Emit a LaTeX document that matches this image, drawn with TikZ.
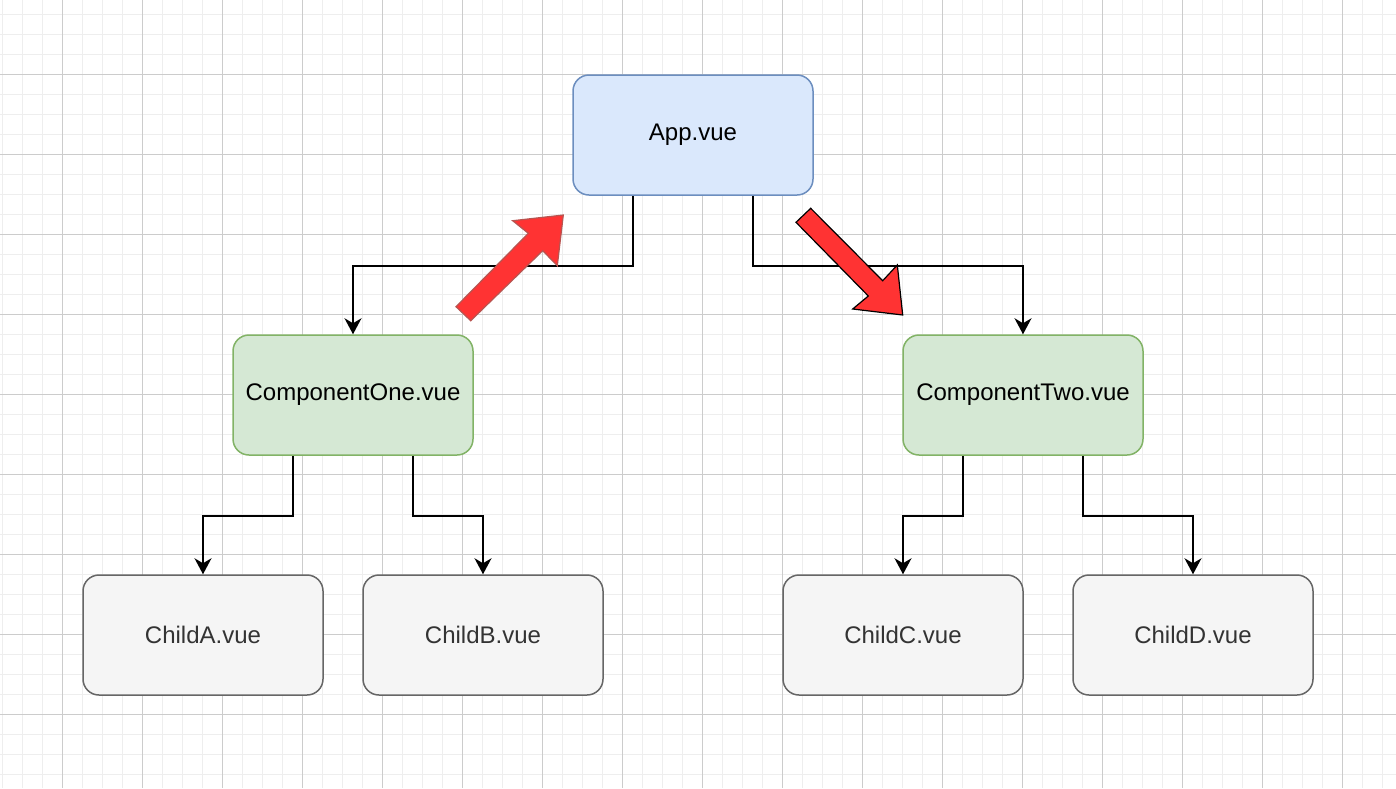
\documentclass[tikz,border=0pt]{standalone}
\usepackage{fontspec}
\setmainfont{Liberation Sans}
\usetikzlibrary{arrows.meta,calc}

\definecolor{gridminor}{HTML}{EEEEEE}
\definecolor{gridmajor}{HTML}{CCCCCC}
\definecolor{appfill}{HTML}{DAE8FC}
\definecolor{appdraw}{HTML}{6C8EBF}
\definecolor{compfill}{HTML}{D5E8D4}
\definecolor{compdraw}{HTML}{82B366}
\definecolor{childfill}{HTML}{F5F5F5}
\definecolor{childdraw}{HTML}{666666}
\definecolor{childtext}{HTML}{333333}
\definecolor{bigred}{HTML}{FF3333}
\definecolor{redborder}{HTML}{B85450}

\tikzset{
  box/.style={rectangle, rounded corners=16pt, minimum width=240pt,
    minimum height=120pt, inner sep=0pt, line width=1.5pt,
    font=\fontsize{24}{28}\selectfont},
  appbox/.style={box, fill=appfill, draw=appdraw},
  compbox/.style={box, fill=compfill, draw=compdraw},
  childbox/.style={box, fill=childfill, draw=childdraw, text=childtext},
  link/.style={line width=1.6pt, draw=black,
    -{Stealth[length=16pt,width=17pt,inset=5pt]}},
  bigarrow/.style={fill=bigred, line width=1.2pt, line join=miter}
}

\begin{document}
\begin{tikzpicture}[x=1pt,y=-1pt]
  % canvas
  \fill[white] (0,0) rectangle (1396,788);
  \useasboundingbox (0,0) rectangle (1396,788);

  % background grid: fine lines every 20, heavier every 80
  \foreach \gx in {2.5,22.5,...,1396} {
    \draw[gridminor, line width=1pt] (\gx,0) -- (\gx,788);
  }
  \foreach \gy in {14,34,...,788} {
    \draw[gridminor, line width=1pt] (0,\gy) -- (1396,\gy);
  }
  \foreach \gx in {62.5,142.5,...,1396} {
    \draw[gridmajor, line width=1pt] (\gx,0) -- (\gx,788);
  }
  \foreach \gy in {74,154,...,788} {
    \draw[gridmajor, line width=1pt] (0,\gy) -- (1396,\gy);
  }

  % components
  \node[appbox]   (app) at (693,135) {App.vue};
  \node[compbox]  (one) at (353,395) {ComponentOne.vue};
  \node[compbox]  (two) at (1023,395) {ComponentTwo.vue};
  \node[childbox] (ca)  at (203,635) {ChildA.vue};
  \node[childbox] (cb)  at (483,635) {ChildB.vue};
  \node[childbox] (cc)  at (903,635) {ChildC.vue};
  \node[childbox] (cd)  at (1193,635) {ChildD.vue};

  % tree connectors
  \draw[link] ([xshift=-60pt]app.south) -- ++(0,70) -| (one.north);
  \draw[link] ([xshift=60pt]app.south)  -- ++(0,70) -| (two.north);
  \draw[link] ([xshift=-60pt]one.south) -- ++(0,60) -| (ca.north);
  \draw[link] ([xshift=60pt]one.south)  -- ++(0,60) -| (cb.north);
  \draw[link] ([xshift=-60pt]two.south) -- ++(0,60) -| (cc.north);
  \draw[link] ([xshift=60pt]two.south)  -- ++(0,60) -| (cd.north);

  % data flowing up to the parent
  \draw[bigarrow, draw=redborder]
    (456,306.7) -- (528.3,233.3) -- (512.7,220.7) -- (563.3,215)
    -- (557.3,265.7) -- (542.7,250.7) -- (470.7,320.7) -- cycle;

  % data flowing down to the other branch
  \draw[bigarrow, draw=black]
    (810.7,208.3) -- (882.7,280.7) -- (897.3,265) -- (902.7,315)
    -- (852.7,309) -- (868.3,296) -- (796,222.3) -- cycle;
\end{tikzpicture}
\end{document}
